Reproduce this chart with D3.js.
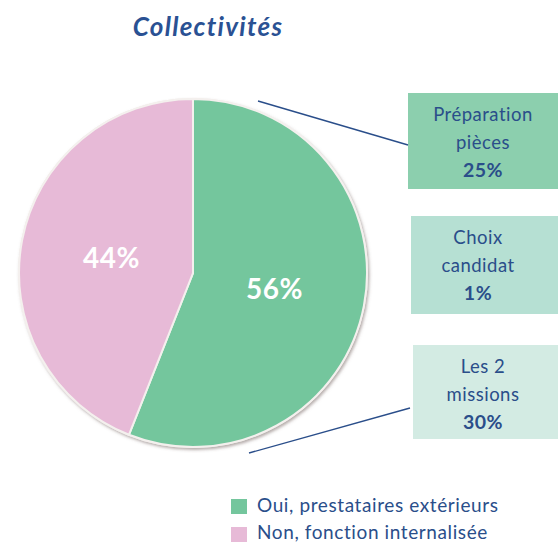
<!DOCTYPE html>
<html><head><meta charset="utf-8">
<script src="https://cdn.jsdelivr.net/npm/d3@7"></script>
<style>
html,body{margin:0;padding:0;background:#fff;}
svg text{font-family:Lato,"Open Sans",sans-serif;}
</style></head>
<body><svg id="c" width="558" height="543"></svg>
<script>
const title = "Collectivités";
const categories = ["Oui, prestataires extérieurs", "Non, fonction internalisée"];
const values = [56, 44];
const colors = ["#74c69d", "#e7bad7"];
const detailLabels = [["Préparation", "pièces"], ["Choix", "candidat"], ["Les 2", "missions"]];
const detailValues = [25, 1, 30];
const detailColors = ["#8ccfae", "#b6e0d3", "#d3ebe3"];

const svg = d3.select("#c");
const textColor = "#2a4e8a";
const cx = 193, cy = 273, R = 174;

const defs = svg.append("defs");
const f = defs.append("filter").attr("id", "sh").attr("x", "-10%").attr("y", "-10%").attr("width", "120%").attr("height", "120%");
f.append("feDropShadow").attr("dx", 1.5).attr("dy", 2).attr("stdDeviation", 1.6).attr("flood-color", "#6b5a55").attr("flood-opacity", 0.5);

svg.append("text").attr("x", 208).attr("y", 36).attr("text-anchor", "middle")
  .attr("font-size", 26).attr("font-weight", 700).attr("font-style", "italic")
  .attr("letter-spacing", 1.3)
  .attr("fill", "#2a5193").text(title);

const pie = d3.pie().sort(null).value(d => d)(values);
const arc = d3.arc().innerRadius(0).outerRadius(R);
const g = svg.append("g").attr("transform", `translate(${cx},${cy})`);
g.append("circle").attr("r", R + 1).attr("fill", "#f1ece8").attr("filter", "url(#sh)");
g.selectAll("path").data(pie).join("path")
  .attr("d", arc).attr("fill", (d, i) => colors[i])
  .attr("stroke", "#f4f0ee").attr("stroke-width", 2);
const lab = d3.arc().innerRadius(83).outerRadius(83);
g.selectAll("text.p").data(pie).join("text").attr("class", "p")
  .attr("transform", d => `translate(${lab.centroid(d)})`)
  .attr("text-anchor", "middle").attr("dy", "0.36em")
  .attr("font-size", 28).attr("font-weight", 700).attr("fill", "#fff")
  .attr("letter-spacing", 0.5)
  .text(d => d.data + "%");

// detail boxes
const boxes = [
  {x: 408, y: 93, h: 96, cx: 483},
  {x: 411, y: 216, h: 98, cx: 478},
  {x: 413, y: 345, h: 94, cx: 483}
];
detailValues.forEach((v, i) => {
  const b = boxes[i];
  svg.append("rect").attr("x", b.x).attr("y", b.y).attr("width", 558 - b.x).attr("height", b.h)
    .attr("fill", detailColors[i]);
  const t = svg.append("text").attr("text-anchor", "middle").attr("fill", textColor)
    .attr("font-size", 18.5).attr("letter-spacing", 0.5);
  t.append("tspan").attr("x", b.cx).attr("y", b.y + 28).text(detailLabels[i][0]);
  t.append("tspan").attr("x", b.cx).attr("y", b.y + 56).text(detailLabels[i][1]);
  t.append("tspan").attr("x", b.cx).attr("y", b.y + 84).attr("font-weight", 700).attr("font-size", 19.5).text(v + "%");
});

// connector lines
svg.append("line").attr("x1", 258).attr("y1", 101).attr("x2", 408).attr("y2", 145)
  .attr("stroke", textColor).attr("stroke-width", 1.4);
svg.append("line").attr("x1", 249).attr("y1", 453).attr("x2", 410).attr("y2", 408)
  .attr("stroke", textColor).attr("stroke-width", 1.4);

// legend
const lg = svg.append("g");
categories.forEach((c, i) => {
  lg.append("rect").attr("x", 231).attr("y", 499 + i * 28).attr("width", 16).attr("height", 15).attr("fill", colors[i]);
  lg.append("text").attr("x", 257).attr("y", 512 + i * 27).attr("font-size", 19).attr("letter-spacing", 0.6)
    .attr("fill", textColor).text(c);
});
</script></body></html>
